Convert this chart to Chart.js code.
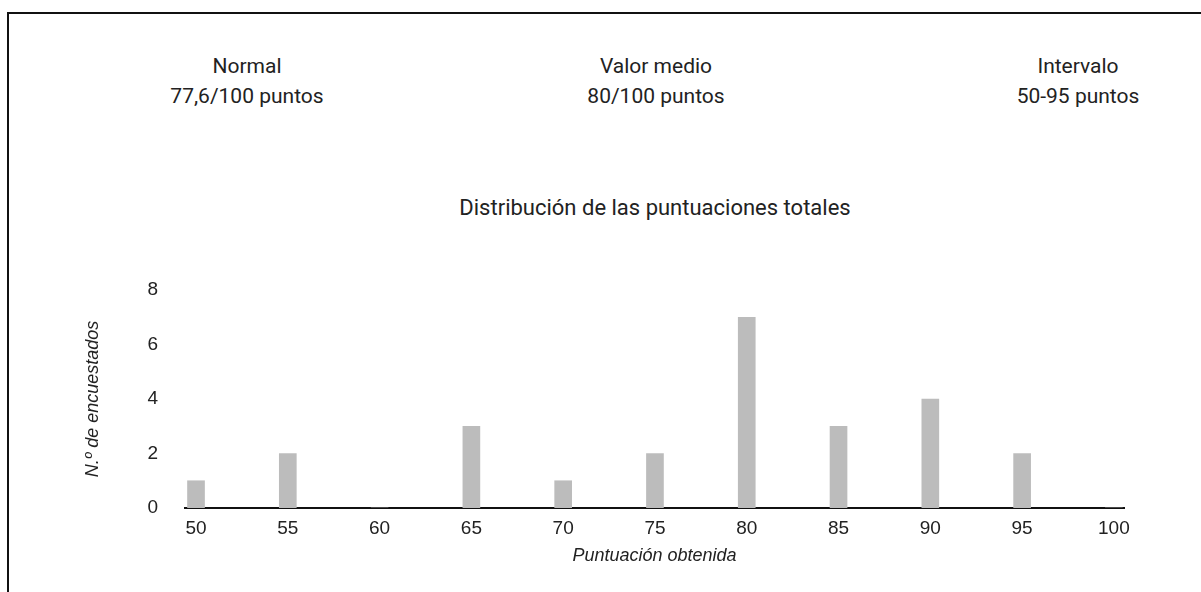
<!DOCTYPE html>
<html>
<head>
<meta charset="utf-8">
<script src="https://cdn.jsdelivr.net/npm/chart.js@4.4.0/dist/chart.umd.min.js"></script>
<style>
  body { margin: 0; background: #fff; width: 1201px; height: 592px; overflow: hidden; font-family: Roboto, sans-serif; }
  #frame { position: absolute; left: 7px; top: 12px; width: 1194px; height: 580px; border-left: 2px solid #111; border-top: 2px solid #111; }
  .stat { position: absolute; top: 51px; transform: translateX(-50%); text-align: center; white-space: nowrap; font-size: 21px; line-height: 30px; color: #222; }
  #title { position: absolute; left: 655px; top: 194px; transform: translateX(-50%); white-space: nowrap; font-size: 22px; line-height: 28px; color: #222; }
  #wrap { position: absolute; left: 0; top: 0; width: 1201px; height: 592px; }
</style>
</head>
<body>
<div id="frame"></div>
<div class="stat" style="left:247px">Normal<br>77,6/100 puntos</div>
<div class="stat" style="left:656px">Valor medio<br>80/100 puntos</div>
<div class="stat" style="left:1078px">Intervalo<br>50-95 puntos</div>
<div id="title">Distribución de las puntuaciones totales</div>
<div id="wrap"><canvas id="chart" width="1201" height="592"></canvas></div>
<script>
// Data
const scoreBins = [50, 55, 60, 65, 70, 75, 80, 85, 90, 95, 100];
const respondents = [1, 2, 0, 3, 1, 2, 7, 3, 4, 2, 0];
const xTicks = [50, 55, 60, 65, 70, 75, 80, 85, 90, 95, 100];
const yTicks = [0, 2, 4, 6, 8];

const tickFont = { family: '"Liberation Sans", Arial, sans-serif', size: 19 };
const axisTitleFont = { family: '"Liberation Sans", Arial, sans-serif', size: 18, style: 'italic' };

new Chart(document.getElementById('chart'), {
    type: 'bar',
    data: {
        datasets: [{
            data: scoreBins.map((s, i) => ({ x: s, y: respondents[i] })),
            backgroundColor: '#bcbcbc',
            borderWidth: 0,
            barThickness: 17
        }]
    },
    options: {
        responsive: false,
        animation: false,
        layout: { padding: { left: 0, right: 77, top: 290, bottom: 0 } },
        plugins: {
            legend: { display: false },
            tooltip: { enabled: false }
        },
        scales: {
            x: {
                type: 'linear',
                offset: false,
                min: 49.4,
                max: 100.55,
                afterBuildTicks: (scale) => { scale.ticks = xTicks.map(v => ({ value: v })); },
                afterFit: (scale) => { scale.height = 84; },
                grid: { display: false },
                border: { display: true, color: '#111', width: 2 },
                ticks: { color: '#222', font: tickFont, padding: 1, maxRotation: 0 },
                title: {
                    display: true,
                    text: 'Puntuación obtenida',
                    color: '#222',
                    font: axisTitleFont,
                    padding: { top: 0, bottom: 25 }
                }
            },
            y: {
                min: 0,
                max: 8,
                afterBuildTicks: (scale) => { scale.ticks = yTicks.map(v => ({ value: v })); },
                afterFit: (scale) => { scale.width = 185; },
                grid: { display: false },
                border: { display: false },
                ticks: { color: '#222', font: tickFont, padding: 19 },
                title: {
                    display: true,
                    text: 'N.º de encuestados',
                    color: '#222',
                    font: axisTitleFont,
                    padding: { top: 82, bottom: 0 }
                }
            }
        }
    }
});
</script>
</body>
</html>
